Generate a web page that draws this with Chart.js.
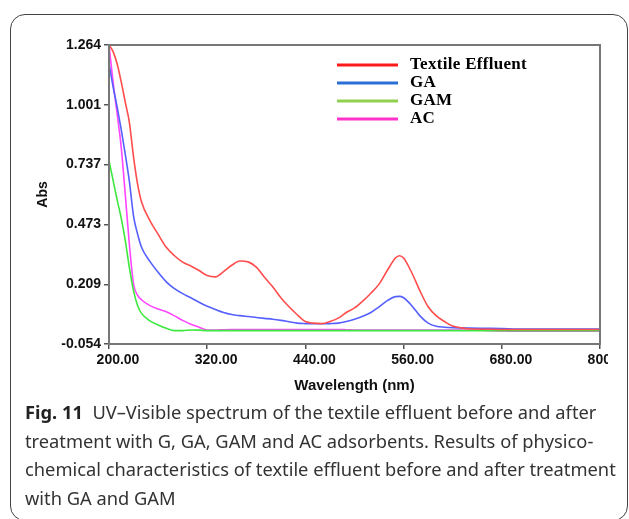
<!DOCTYPE html>
<html>
<head>
<meta charset="utf-8">
<script src="https://cdn.jsdelivr.net/npm/chart.js@4.4.0/dist/chart.umd.min.js"></script>
<style>
  body { margin: 0; background: #fff; width: 629px; height: 519px; overflow: hidden; position: relative; }
  #card { position: absolute; left: 10px; top: 14px; width: 616px; height: 505px; border: 1.3px solid #444; border-radius: 15px; }
  #plot { position: absolute; left: 0; top: 0; width: 608px; height: 400px; overflow: hidden; }
  #plot canvas { position: absolute; left: 0; top: 0; }
  #caption { position: absolute; left: 25px; top: 398px; font-family: 'Noto Sans', sans-serif; font-size: 18.3px; line-height: 28.7px; color: #333; white-space: nowrap; }
  #caption b { color: #222; }
</style>
</head>
<body>
<div id="card"></div>
<div id="plot"><canvas id="spectrum" width="640" height="400"></canvas></div>
<div id="caption"><b>Fig. 11</b>&nbsp; UV–Visible spectrum of the textile effluent before and after<br>treatment with G, GA, GAM and AC adsorbents. Results of physico-<br>chemical characteristics of textile effluent before and after treatment<br>with GA and GAM</div>
<script>
// wavelength grid (nm) shared by all four spectra
const wavelength = [200, 205, 210, 215, 220, 225, 230, 235, 240, 250, 260, 270, 280, 290, 300, 310, 320, 330, 340, 350,
  360, 370, 380, 390, 400, 410, 420, 430, 440, 450, 460, 470, 480, 490, 500, 510, 520, 530, 540, 550,
  555, 560, 570, 580, 590, 600, 610, 620, 640, 660, 680, 700, 720, 740, 760, 780, 800];

// absorbance
const effluentAbs = [1.264, 1.235, 1.18, 1.10, 1.01, 0.92, 0.77, 0.65, 0.57, 0.49, 0.43, 0.372, 0.335, 0.307, 0.29, 0.27, 0.248, 0.242, 0.265, 0.293,
  0.312, 0.308, 0.285, 0.24, 0.198, 0.15, 0.11, 0.075, 0.045, 0.038, 0.036, 0.045, 0.06, 0.085, 0.105, 0.135, 0.17, 0.21, 0.27, 0.325,
  0.335, 0.325, 0.26, 0.18, 0.11, 0.07, 0.045, 0.025, 0.013, 0.011, 0.01, 0.01, 0.01, 0.01, 0.01, 0.01, 0.01];
const gaAbs = [1.183, 1.08, 0.99, 0.89, 0.78, 0.66, 0.51, 0.43, 0.37, 0.31, 0.262, 0.22, 0.19, 0.168, 0.15, 0.13, 0.112, 0.098, 0.085, 0.076,
  0.071, 0.067, 0.063, 0.059, 0.055, 0.05, 0.044, 0.038, 0.036, 0.035, 0.035, 0.036, 0.038, 0.045, 0.055, 0.068, 0.085, 0.11, 0.137, 0.155,
  0.156, 0.15, 0.115, 0.07, 0.038, 0.024, 0.02, 0.018, 0.016, 0.015, 0.014, 0.012, 0.012, 0.012, 0.012, 0.012, 0.012];
const gamAbs = [0.755, 0.667, 0.58, 0.50, 0.40, 0.28, 0.18, 0.115, 0.08, 0.048, 0.03, 0.015, 0.005, 0.005, 0.008, 0.007, 0.005, 0.005, 0.005, 0.005,
  0.005, 0.005, 0.005, 0.005, 0.005, 0.005, 0.005, 0.005, 0.005, 0.005, 0.005, 0.005, 0.005, 0.005, 0.005, 0.005, 0.005, 0.005, 0.005, 0.005,
  0.005, 0.005, 0.005, 0.005, 0.005, 0.005, 0.005, 0.005, 0.005, 0.005, 0.005, 0.005, 0.005, 0.005, 0.005, 0.005, 0.005];
const acAbs = [1.264, 1.10, 0.96, 0.81, 0.60, 0.38, 0.21, 0.16, 0.14, 0.115, 0.10, 0.088, 0.07, 0.05, 0.033, 0.02, 0.008, 0.007, 0.009, 0.01,
  0.01, 0.01, 0.01, 0.01, 0.01, 0.01, 0.01, 0.01, 0.01, 0.01, 0.01, 0.01, 0.01, 0.009, 0.008, 0.008, 0.008, 0.008, 0.008, 0.008,
  0.008, 0.008, 0.008, 0.008, 0.008, 0.008, 0.008, 0.008, 0.008, 0.006, 0.003, 0.002, 0.002, 0.002, 0.002, 0.002, 0.002];

const seriesNames = ['Textile Effluent', 'GA', 'GAM', 'AC'];
const xTicks = [200, 320, 440, 560, 680, 800];
const yTicks = [-0.054, 0.209, 0.473, 0.737, 1.001, 1.264];

const lineColors = ['#ff4d4d', '#5560ff', '#3fe83f', '#ff45ff'];
const legendColors = ['#ff1a1a', '#2a6fd6', '#8fd14f', '#ff33cc'];

function toPoints(values) {
  return wavelength.map((w, i) => ({ x: w, y: values[i] }));
}

// frame round the plot area
const boxPlugin = {
  id: 'plotBox',
  afterDatasetsDraw(chart) {
    const a = chart.chartArea;
    const ctx = chart.ctx;
    ctx.save();
    ctx.strokeStyle = '#777';
    ctx.lineWidth = 2;
    ctx.strokeRect(a.left, a.top, a.right - a.left, a.bottom - a.top);
    ctx.restore();
  }
};

// legend inside the plot, upper right
const legendPlugin = {
  id: 'insideLegend',
  afterDraw(chart) {
    const ctx = chart.ctx;
    ctx.save();
    ctx.font = 'bold 17px "Liberation Serif", serif';
    ctx.letterSpacing = '0.3px';
    ctx.textBaseline = 'middle';
    chart.data.datasets.forEach(function(ds, i) {
      let y = 65 + i * 18;
      ctx.strokeStyle = legendColors[i];
      ctx.lineWidth = 3;
      ctx.beginPath();
      ctx.moveTo(337, y);
      ctx.lineTo(398, y);
      ctx.stroke();
      ctx.fillStyle = '#000';
      ctx.fillText(ds.label, 410, y);
    });
    ctx.restore();
  }
};

const tickFont = { family: '"Liberation Sans", Arial, sans-serif', size: 14, weight: 'bold' };

new Chart(document.getElementById('spectrum').getContext('2d'), {
  type: 'line',
  data: {
    datasets: [effluentAbs, gaAbs, gamAbs, acAbs].map(function(vals, i) {
      return {
        label: seriesNames[i],
        data: toPoints(vals),
        borderColor: lineColors[i],
        borderWidth: 1.6,
        pointRadius: 0,
        fill: false,
        cubicInterpolationMode: 'monotone'
      };
    })
  },
  options: {
    responsive: false,
    animation: false,
    layout: { padding: { left: 35, right: 40, top: 45, bottom: 5 } },
    plugins: { legend: { display: false }, tooltip: { enabled: false } },
    scales: {
      x: {
        type: 'linear',
        min: 200,
        max: 800,
        afterBuildTicks: function(axis) { axis.ticks = xTicks.map(v => ({ value: v })); },
        afterFit: function(scale) { scale.height = 51; },
        ticks: { callback: v => v.toFixed(2), font: tickFont, color: '#111', labelOffset: 9, padding: 3, maxRotation: 0, autoSkip: false },
        grid: { drawOnChartArea: false, tickLength: 5, color: '#555', lineWidth: 1.5 },
        border: { color: '#777', width: 2 },
        title: { display: true, text: 'Wavelength (nm)', font: { family: '"Liberation Sans", Arial, sans-serif', size: 15, weight: 'bold' }, color: '#111', padding: 0 }
      },
      y: {
        type: 'linear',
        min: -0.054,
        max: 1.264,
        afterBuildTicks: function(axis) { axis.ticks = yTicks.map(v => ({ value: v })); },
        afterFit: function(scale) { scale.width = 74; },
        ticks: { callback: v => v.toFixed(3), font: tickFont, color: '#111', padding: 3, autoSkip: false },
        grid: { drawOnChartArea: false, tickLength: 5, color: '#555', lineWidth: 1.5 },
        border: { color: '#777', width: 2 },
        title: { display: true, text: 'Abs', font: { family: '"Liberation Sans", Arial, sans-serif', size: 14, weight: 'bold' }, color: '#111', padding: 0 }
      }
    }
  },
  plugins: [boxPlugin, legendPlugin]
});
</script>
</body>
</html>
